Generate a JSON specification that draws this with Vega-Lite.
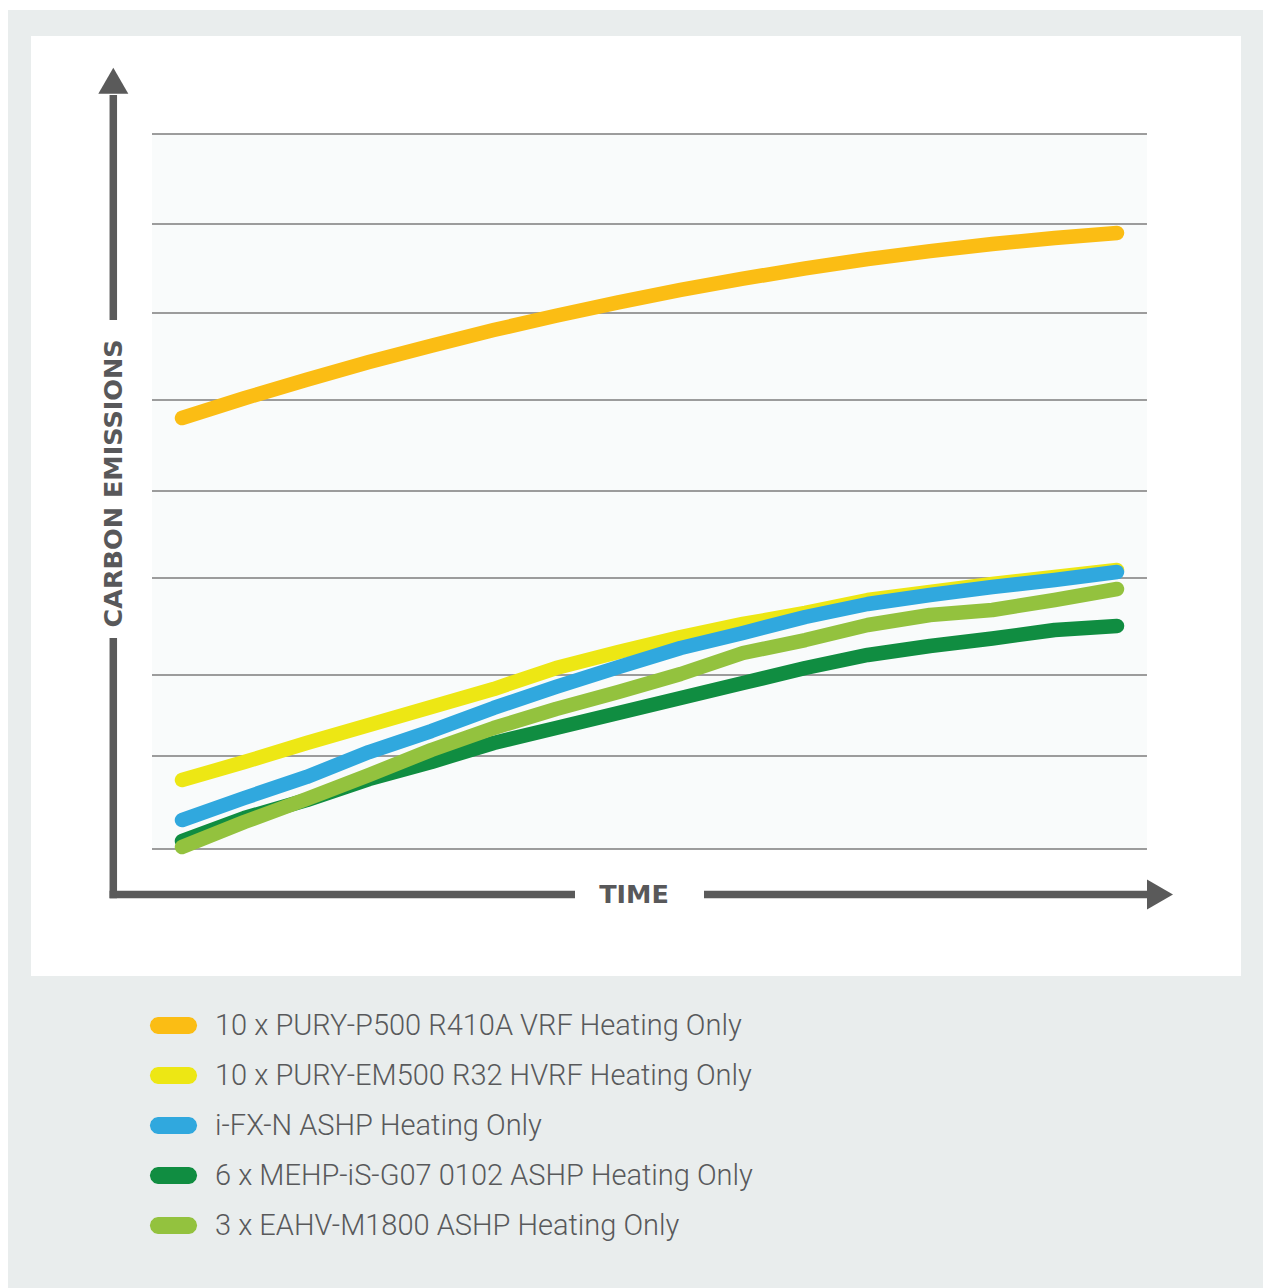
{
  "$schema": "https://vega.github.io/schema/vega-lite/v6.json",
  "autosize": {"type": "none"},
  "width": 1255,
  "height": 1278,
  "padding": {"left": 8, "top": 10, "right": 0, "bottom": 0},
  "background": "#ffffff",
  "config": {"view": {"fill": "#e9eded", "stroke": null}},
  "datasets": {
    "panels": [
      {"kind": "panel", "x": -2.4225, "x2": 16.989, "y": -1.421, "y2": 9.0965},
      {"kind": "plot", "x": -0.4813, "x2": 15.481, "y": 0, "y2": 8}
    ],
    "grid": [
      {"v": 0}, {"v": 1.041}, {"v": 1.947}, {"v": 3.032}, {"v": 4.006},
      {"v": 5.024}, {"v": 5.997}, {"v": 6.993}, {"v": 8}
    ],
    "shafts": [
      {"x": -1.1021, "x2": -1.1021, "y": -0.551, "y2": 2.3608},
      {"x": -1.1021, "x2": -1.1021, "y": 5.9189, "y2": 8.4364},
      {"x": -1.1623, "x2": 6.3048, "y": -0.5091, "y2": -0.5091},
      {"x": 8.3743, "x2": 15.529, "y": -0.5091, "y2": -0.5091}
    ],
    "heads": [
      {"x": -1.1021, "y": 8.5953, "shape": "triangle-up"},
      {"x": 15.69, "y": -0.5091, "shape": "triangle-right"}
    ],
    "titles": [
      {"x": -1.09, "y": 4.09, "text": "CARBON EMISSIONS", "angle": 270},
      {"x": 7.2513, "y": -0.5147, "text": "TIME", "angle": 0}
    ],
    "lines": [
      {"series": "10 x PURY-P500 R410A VRF Heating Only", "t": 0, "v": 4.822},
      {"series": "10 x PURY-P500 R410A VRF Heating Only", "t": 1, "v": 5.043},
      {"series": "10 x PURY-P500 R410A VRF Heating Only", "t": 2, "v": 5.251},
      {"series": "10 x PURY-P500 R410A VRF Heating Only", "t": 3, "v": 5.448},
      {"series": "10 x PURY-P500 R410A VRF Heating Only", "t": 4, "v": 5.632},
      {"series": "10 x PURY-P500 R410A VRF Heating Only", "t": 5, "v": 5.806},
      {"series": "10 x PURY-P500 R410A VRF Heating Only", "t": 6, "v": 5.967},
      {"series": "10 x PURY-P500 R410A VRF Heating Only", "t": 7, "v": 6.117},
      {"series": "10 x PURY-P500 R410A VRF Heating Only", "t": 8, "v": 6.256},
      {"series": "10 x PURY-P500 R410A VRF Heating Only", "t": 9, "v": 6.381},
      {"series": "10 x PURY-P500 R410A VRF Heating Only", "t": 10, "v": 6.497},
      {"series": "10 x PURY-P500 R410A VRF Heating Only", "t": 11, "v": 6.6},
      {"series": "10 x PURY-P500 R410A VRF Heating Only", "t": 12, "v": 6.69},
      {"series": "10 x PURY-P500 R410A VRF Heating Only", "t": 13, "v": 6.769},
      {"series": "10 x PURY-P500 R410A VRF Heating Only", "t": 14, "v": 6.836},
      {"series": "10 x PURY-P500 R410A VRF Heating Only", "t": 15, "v": 6.892},
      {"series": "10 x PURY-EM500 R32 HVRF Heating Only", "t": 0, "v": 0.772},
      {"series": "10 x PURY-EM500 R32 HVRF Heating Only", "t": 1, "v": 0.973},
      {"series": "10 x PURY-EM500 R32 HVRF Heating Only", "t": 2, "v": 1.186},
      {"series": "10 x PURY-EM500 R32 HVRF Heating Only", "t": 3, "v": 1.387},
      {"series": "10 x PURY-EM500 R32 HVRF Heating Only", "t": 4, "v": 1.589},
      {"series": "10 x PURY-EM500 R32 HVRF Heating Only", "t": 5, "v": 1.79},
      {"series": "10 x PURY-EM500 R32 HVRF Heating Only", "t": 6, "v": 2.025},
      {"series": "10 x PURY-EM500 R32 HVRF Heating Only", "t": 7, "v": 2.204},
      {"series": "10 x PURY-EM500 R32 HVRF Heating Only", "t": 8, "v": 2.372},
      {"series": "10 x PURY-EM500 R32 HVRF Heating Only", "t": 9, "v": 2.518},
      {"series": "10 x PURY-EM500 R32 HVRF Heating Only", "t": 10, "v": 2.641},
      {"series": "10 x PURY-EM500 R32 HVRF Heating Only", "t": 11, "v": 2.786},
      {"series": "10 x PURY-EM500 R32 HVRF Heating Only", "t": 12, "v": 2.876},
      {"series": "10 x PURY-EM500 R32 HVRF Heating Only", "t": 13, "v": 2.965},
      {"series": "10 x PURY-EM500 R32 HVRF Heating Only", "t": 14, "v": 3.043},
      {"series": "10 x PURY-EM500 R32 HVRF Heating Only", "t": 15, "v": 3.121},
      {"series": "i-FX-N ASHP Heating Only", "t": 0, "v": 0.324},
      {"series": "i-FX-N ASHP Heating Only", "t": 1, "v": 0.571},
      {"series": "i-FX-N ASHP Heating Only", "t": 2, "v": 0.806},
      {"series": "i-FX-N ASHP Heating Only", "t": 3, "v": 1.085},
      {"series": "i-FX-N ASHP Heating Only", "t": 4, "v": 1.32},
      {"series": "i-FX-N ASHP Heating Only", "t": 5, "v": 1.578},
      {"series": "i-FX-N ASHP Heating Only", "t": 6, "v": 1.813},
      {"series": "i-FX-N ASHP Heating Only", "t": 7, "v": 2.036},
      {"series": "i-FX-N ASHP Heating Only", "t": 8, "v": 2.249},
      {"series": "i-FX-N ASHP Heating Only", "t": 9, "v": 2.417},
      {"series": "i-FX-N ASHP Heating Only", "t": 10, "v": 2.596},
      {"series": "i-FX-N ASHP Heating Only", "t": 11, "v": 2.741},
      {"series": "i-FX-N ASHP Heating Only", "t": 12, "v": 2.842},
      {"series": "i-FX-N ASHP Heating Only", "t": 13, "v": 2.931},
      {"series": "i-FX-N ASHP Heating Only", "t": 14, "v": 3.01},
      {"series": "i-FX-N ASHP Heating Only", "t": 15, "v": 3.099},
      {"series": "6 x MEHP-iS-G07 0102 ASHP Heating Only", "t": 0, "v": 0.09},
      {"series": "6 x MEHP-iS-G07 0102 ASHP Heating Only", "t": 1, "v": 0.347},
      {"series": "6 x MEHP-iS-G07 0102 ASHP Heating Only", "t": 2, "v": 0.548},
      {"series": "6 x MEHP-iS-G07 0102 ASHP Heating Only", "t": 3, "v": 0.783},
      {"series": "6 x MEHP-iS-G07 0102 ASHP Heating Only", "t": 4, "v": 0.974},
      {"series": "6 x MEHP-iS-G07 0102 ASHP Heating Only", "t": 5, "v": 1.186},
      {"series": "6 x MEHP-iS-G07 0102 ASHP Heating Only", "t": 6, "v": 1.354},
      {"series": "6 x MEHP-iS-G07 0102 ASHP Heating Only", "t": 7, "v": 1.522},
      {"series": "6 x MEHP-iS-G07 0102 ASHP Heating Only", "t": 8, "v": 1.69},
      {"series": "6 x MEHP-iS-G07 0102 ASHP Heating Only", "t": 9, "v": 1.857},
      {"series": "6 x MEHP-iS-G07 0102 ASHP Heating Only", "t": 10, "v": 2.025},
      {"series": "6 x MEHP-iS-G07 0102 ASHP Heating Only", "t": 11, "v": 2.171},
      {"series": "6 x MEHP-iS-G07 0102 ASHP Heating Only", "t": 12, "v": 2.271},
      {"series": "6 x MEHP-iS-G07 0102 ASHP Heating Only", "t": 13, "v": 2.355},
      {"series": "6 x MEHP-iS-G07 0102 ASHP Heating Only", "t": 14, "v": 2.45},
      {"series": "6 x MEHP-iS-G07 0102 ASHP Heating Only", "t": 15, "v": 2.495},
      {"series": "3 x EAHV-M1800 ASHP Heating Only", "t": 0, "v": 0.022},
      {"series": "3 x EAHV-M1800 ASHP Heating Only", "t": 1, "v": 0.302},
      {"series": "3 x EAHV-M1800 ASHP Heating Only", "t": 2, "v": 0.559},
      {"series": "3 x EAHV-M1800 ASHP Heating Only", "t": 3, "v": 0.828},
      {"series": "3 x EAHV-M1800 ASHP Heating Only", "t": 4, "v": 1.108},
      {"series": "3 x EAHV-M1800 ASHP Heating Only", "t": 5, "v": 1.354},
      {"series": "3 x EAHV-M1800 ASHP Heating Only", "t": 6, "v": 1.566},
      {"series": "3 x EAHV-M1800 ASHP Heating Only", "t": 7, "v": 1.757},
      {"series": "3 x EAHV-M1800 ASHP Heating Only", "t": 8, "v": 1.958},
      {"series": "3 x EAHV-M1800 ASHP Heating Only", "t": 9, "v": 2.193},
      {"series": "3 x EAHV-M1800 ASHP Heating Only", "t": 10, "v": 2.338},
      {"series": "3 x EAHV-M1800 ASHP Heating Only", "t": 11, "v": 2.506},
      {"series": "3 x EAHV-M1800 ASHP Heating Only", "t": 12, "v": 2.618},
      {"series": "3 x EAHV-M1800 ASHP Heating Only", "t": 13, "v": 2.674},
      {"series": "3 x EAHV-M1800 ASHP Heating Only", "t": 14, "v": 2.786},
      {"series": "3 x EAHV-M1800 ASHP Heating Only", "t": 15, "v": 2.909}
    ]
  },
  "layer": [
    {
      "data": {"name": "panels"},
      "mark": {"type": "rect"},
      "encoding": {
        "x": {"field": "x", "type": "quantitative", "scale": {"domain": [-2.7914, 17.3422], "nice": false, "zero": false}, "axis": null},
        "x2": {"field": "x2"},
        "y": {"field": "y", "type": "quantitative", "scale": {"domain": [-4.9119, 9.3874], "nice": false, "zero": false}, "axis": null},
        "y2": {"field": "y2"},
        "fill": {"field": "kind", "type": "nominal", "scale": {"domain": ["panel", "plot"], "range": ["#ffffff", "#f9fbfb"]}, "legend": null}
      }
    },
    {
      "data": {"name": "grid"},
      "mark": {"type": "rule", "color": "#7d7d7d", "strokeWidth": 1.5},
      "encoding": {
        "x": {"datum": -0.4813, "type": "quantitative", "scale": {"domain": [-2.7914, 17.3422], "nice": false, "zero": false}, "axis": null},
        "x2": {"datum": 15.481},
        "y": {"field": "v", "type": "quantitative", "scale": {"domain": [-4.9119, 9.3874], "nice": false, "zero": false}, "axis": null}
      }
    },
    {
      "data": {"name": "lines"},
      "mark": {"type": "line", "strokeWidth": 14.5, "strokeCap": "round", "strokeJoin": "round"},
      "encoding": {
        "x": {"field": "t", "type": "quantitative", "scale": {"domain": [-2.7914, 17.3422], "nice": false, "zero": false}, "axis": null},
        "y": {"field": "v", "type": "quantitative", "scale": {"domain": [-4.9119, 9.3874], "nice": false, "zero": false}, "axis": null},
        "color": {
          "field": "series",
          "type": "nominal",
          "scale": {
            "domain": ["10 x PURY-P500 R410A VRF Heating Only", "10 x PURY-EM500 R32 HVRF Heating Only", "i-FX-N ASHP Heating Only", "6 x MEHP-iS-G07 0102 ASHP Heating Only", "3 x EAHV-M1800 ASHP Heating Only"],
            "range": ["#fbbd14", "#ede714", "#30a8de", "#108d41", "#93c23e"]
          },
          "legend": {
            "orient": "none",
            "legendX": 151,
            "legendY": 1001,
            "title": null,
            "padding": 0,
            "symbolType": "M-3,-0.85L3,-0.85L3.425,-0.736L3.736,-0.425L3.85,0L3.736,0.425L3.425,0.736L3,0.85L-3,0.85L-3.425,0.736L-3.736,0.425L-3.85,0L-3.736,-0.425L-3.425,-0.736Z",
            "symbolSize": 100,
            "symbolStrokeWidth": 8.5,
            "symbolOpacity": 1,
            "labelFont": "Roboto",
            "labelFontSize": 29,
            "labelFontWeight": 300,
            "labelColor": "#58595b",
            "labelOffset": 27,
            "labelLimit": 0,
            "rowPadding": 7
          }
        }
      }
    },
    {
      "data": {"name": "shafts"},
      "mark": {"type": "rule", "color": "#5a5a5a", "strokeWidth": 7.5, "strokeCap": "butt"},
      "encoding": {
        "x": {"field": "x", "type": "quantitative", "scale": {"domain": [-2.7914, 17.3422], "nice": false, "zero": false}, "axis": null},
        "x2": {"field": "x2"},
        "y": {"field": "y", "type": "quantitative", "scale": {"domain": [-4.9119, 9.3874], "nice": false, "zero": false}, "axis": null},
        "y2": {"field": "y2"}
      }
    },
    {
      "data": {"name": "heads"},
      "mark": {"type": "point", "filled": true, "color": "#5a5a5a", "opacity": 1, "size": 900},
      "encoding": {
        "x": {"field": "x", "type": "quantitative", "scale": {"domain": [-2.7914, 17.3422], "nice": false, "zero": false}, "axis": null},
        "y": {"field": "y", "type": "quantitative", "scale": {"domain": [-4.9119, 9.3874], "nice": false, "zero": false}, "axis": null},
        "shape": {"field": "shape", "type": "nominal", "scale": null}
      }
    },
    {
      "data": {"name": "titles"},
      "mark": {"type": "text", "font": "DejaVu Sans", "fontWeight": "bold", "fontSize": 25.5, "color": "#58585a", "align": "center", "baseline": "middle"},
      "encoding": {
        "x": {"field": "x", "type": "quantitative", "scale": {"domain": [-2.7914, 17.3422], "nice": false, "zero": false}, "axis": null},
        "y": {"field": "y", "type": "quantitative", "scale": {"domain": [-4.9119, 9.3874], "nice": false, "zero": false}, "axis": null},
        "text": {"field": "text"},
        "angle": {"field": "angle", "type": "quantitative", "scale": null}
      }
    }
  ]
}
